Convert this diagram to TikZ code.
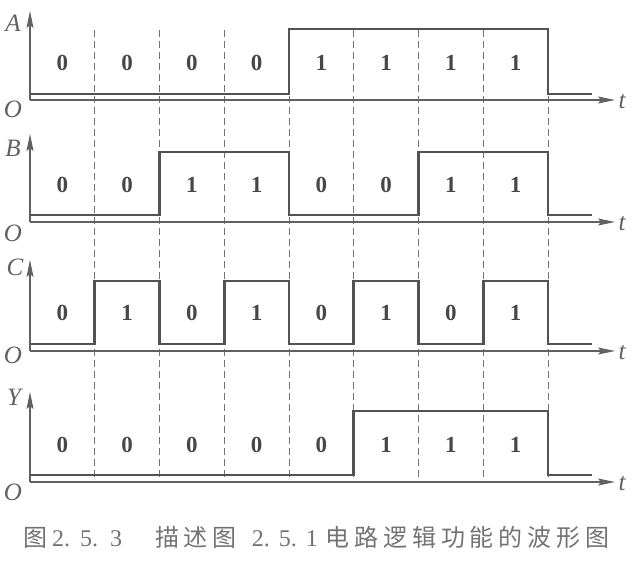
\documentclass[tikz,border=0pt]{standalone}
\usepackage{fontspec}
\setmainfont{Liberation Serif}
\newfontfamily\cjk[LetterSpace=20]{Noto Sans CJK SC}
\usetikzlibrary{arrows.meta}
\begin{document}
\begin{tikzpicture}[x=1pt,y=-1pt,
wave/.style={line width=2.6pt, color=black!68, line join=miter},
taxis/.style={line width=1.3pt, color=black!62, -{Stealth[length=17pt,width=7pt,inset=3pt]}},
sep/.style={line width=0.9pt, color=black!55, dash pattern=on 7pt off 4pt},
bit/.style={font=\fontsize{23}{23}\selectfont\bfseries, text=black!72},
lab/.style={font=\fontsize{25}{25}\selectfont\itshape, text=black!62}]
\useasboundingbox (0,0) rectangle (642,560);
\coordinate (d1s) at (94.75,30);
\coordinate (d1e) at (94.75,477);
\coordinate (d2s) at (159.5,30);
\coordinate (d2e) at (159.5,477);
\coordinate (d3s) at (224.25,30);
\coordinate (d3e) at (224.25,477);
\coordinate (d4s) at (289,30);
\coordinate (d4e) at (289,477);
\coordinate (d5s) at (353.75,30);
\coordinate (d5e) at (353.75,477);
\coordinate (d6s) at (418.5,30);
\coordinate (d6e) at (418.5,477);
\coordinate (d7s) at (483.25,30);
\coordinate (d7e) at (483.25,477);
\coordinate (d8s) at (548,30);
\coordinate (d8e) at (548,477);
\draw[sep](d1s) -- (d1e);
\draw[sep](d2s) -- (d2e);
\draw[sep](d3s) -- (d3e);
\draw[sep](d4s) -- (d4e);
\draw[sep](d5s) -- (d5e);
\draw[sep](d6s) -- (d6e);
\draw[sep](d7s) -- (d7e);
\draw[sep](d8s) -- (d8e);
\coordinate (pa0) at (30,100);
\coordinate (pa1) at (615,100);
\coordinate (pa2) at (30,11);
\draw[taxis](pa0) -- (pa1);
\draw[taxis](pa0) -- (pa2);
\draw[wave] (30,94) -- (289,94) -- (289,29) -- (548,29) -- (548,94) -- (592,94);
\node[lab] (la) at (13,23){A};
\node[lab] (oa) at (13,109){O};
\node[lab] (ta) at (622,102){t};
\node[bit] (a1) at (62.4,63){0};
\node[bit] (a2) at (127.1,63){0};
\node[bit] (a3) at (191.9,63){0};
\node[bit] (a4) at (256.6,63){0};
\node[bit] (a5) at (321.4,63){1};
\node[bit] (a6) at (386.1,63){1};
\node[bit] (a7) at (450.9,63){1};
\node[bit] (a8) at (515.6,63){1};
\coordinate (pb0) at (30,222);
\coordinate (pb1) at (615,222);
\coordinate (pb2) at (30,134);
\draw[taxis](pb0) -- (pb1);
\draw[taxis](pb0) -- (pb2);
\draw[wave] (30,215) -- (159.5,215) -- (159.5,152) -- (289,152) -- (289,215) -- (418.5,215) -- (418.5,152) -- (548,152) -- (548,215) -- (592,215);
\node[lab] (lb) at (13,148){B};
\node[lab] (ob) at (13,233){O};
\node[lab] (tb) at (622,224){t};
\node[bit] (b1) at (62.4,185){0};
\node[bit] (b2) at (127.1,185){0};
\node[bit] (b3) at (191.9,185){1};
\node[bit] (b4) at (256.6,185){1};
\node[bit] (b5) at (321.4,185){0};
\node[bit] (b6) at (386.1,185){0};
\node[bit] (b7) at (450.9,185){1};
\node[bit] (b8) at (515.6,185){1};
\coordinate (pc0) at (30,351);
\coordinate (pc1) at (615,351);
\coordinate (pc2) at (30,260);
\draw[taxis](pc0) -- (pc1);
\draw[taxis](pc0) -- (pc2);
\draw[wave] (30,344) -- (94.75,344) -- (94.75,281) -- (159.5,281) -- (159.5,344) -- (224.25,344) -- (224.25,281) -- (289,281) -- (289,344) -- (353.75,344) -- (353.75,281) -- (418.5,281) -- (418.5,344) -- (483.25,344) -- (483.25,281) -- (548,281) -- (548,344) -- (592,344);
\node[lab] (lc) at (15,267){C};
\node[lab] (oc) at (13,355){O};
\node[lab] (tc) at (622,353){t};
\node[bit] (c1) at (62.4,313){0};
\node[bit] (c2) at (127.1,313){1};
\node[bit] (c3) at (191.9,313){0};
\node[bit] (c4) at (256.6,313){1};
\node[bit] (c5) at (321.4,313){0};
\node[bit] (c6) at (386.1,313){1};
\node[bit] (c7) at (450.9,313){0};
\node[bit] (c8) at (515.6,313){1};
\coordinate (py0) at (30,482);
\coordinate (py1) at (615,482);
\coordinate (py2) at (30,392);
\draw[taxis](py0) -- (py1);
\draw[taxis](py0) -- (py2);
\draw[wave] (30,475) -- (353.75,475) -- (353.75,411) -- (548,411) -- (548,475) -- (592,475);
\node[lab] (ly) at (14,397){Y};
\node[lab] (oy) at (13,492){O};
\node[lab] (ty) at (622,484){t};
\node[bit] (y1) at (62.4,445){0};
\node[bit] (y2) at (127.1,445){0};
\node[bit] (y3) at (191.9,445){0};
\node[bit] (y4) at (256.6,445){0};
\node[bit] (y5) at (321.4,445){0};
\node[bit] (y6) at (386.1,445){1};
\node[bit] (y7) at (450.9,445){1};
\node[bit] (y8) at (515.6,445){1};
\node[font=\fontsize{24}{24}\selectfont, text=black!55, inner sep=0pt, anchor=west] (cap) at (23,537){{\cjk 图}\hspace{5pt}2.\hspace{10pt}5.\hspace{12pt}3\hspace{33pt}{\cjk 描述图}\hspace{15pt}2.\hspace{9pt}5.\hspace{9pt}1\hspace{8pt}{\cjk 电路逻辑功能的波形图}};
\end{tikzpicture}
\end{document}
